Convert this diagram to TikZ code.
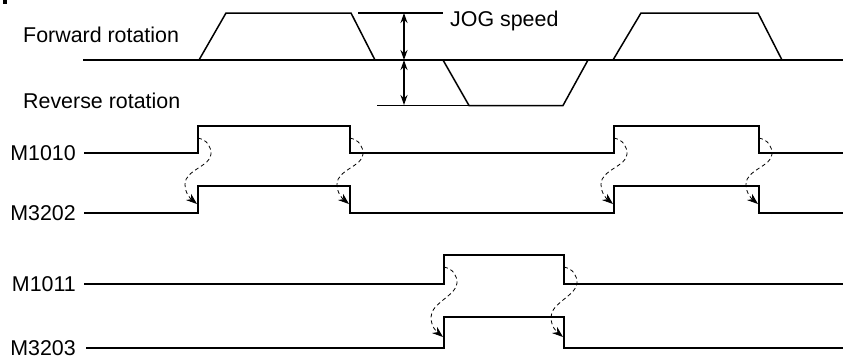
\documentclass[tikz,border=0pt]{standalone}
\usepackage{fontspec}
\setmainfont{Liberation Sans}
\usetikzlibrary{arrows.meta}
\tikzset{
  sig/.style={line width=1.5pt, line join=miter},
  spd/.style={line width=1.5pt, line join=miter},
  refline/.style={line width=1.1pt},
  lbl/.style={inner sep=0pt, font=\fontsize{21.4}{24}\selectfont},
  cause/.style={line width=0.8pt, dash pattern=on 4pt off 3pt, -{Stealth[length=11pt,width=8pt]}},
  jog/.style={line width=1.5pt, {Stealth[length=10pt,width=7pt]}-{Stealth[length=10pt,width=7pt]}}
}
\newcommand\edgearrow[4]{%
  \coordinate (#3s) at (#1,#2+12);
  \coordinate (#3r) at (#1+13,#2+28);
  \coordinate (#3l) at (#1-13,#2+58+#4);
  \coordinate (#3t) at (#1-1,#2+78+#4);
  \draw[cause] (#3s) .. controls (#1+9,#2+14) and (#1+13,#2+20) .. (#3r)
    .. controls (#1+13,#2+40) and (#1-13,#2+44+#4) .. (#3l)
    .. controls (#1-13,#2+68+#4) and (#1-7,#2+73+#4) .. (#3t);
}
\begin{document}
\begin{tikzpicture}[x=1pt,y=-1pt]
\useasboundingbox (0,0) rectangle (847,360);
\fill (3,0) rectangle (7,3.5);
% labels
\node[lbl, anchor=base west] (fwd) at (23,42) {Forward rotation};
\node[lbl, anchor=base west] (rev) at (23,108) {Reverse rotation};
\node[lbl, anchor=base west] (jogt) at (450,26) {JOG speed};
\node[lbl, anchor=east] (m1010) at (76,153) {M1010};
\node[lbl, anchor=east] (m3202) at (76,213) {M3202};
\node[lbl, anchor=east] (m1011) at (76,284) {M1011};
\node[lbl, anchor=east] (m3203) at (76,348) {M3203};
% speed graph
\draw[spd] (83,60) -- (843,60);
\draw[spd] (199,60) -- (226,13) -- (351,13) -- (375,60);
\draw[spd] (443,60) -- (469,105.5) -- (563,105.5) -- (588,60);
\draw[spd] (613,60) -- (641,13) -- (758,13) -- (782,60);
\draw[refline] (358,13) -- (443,13);
\draw[refline] (377,105.5) -- (469,105.5);
\coordinate (jtop) at (404,13);
\coordinate (jmid) at (404,60);
\coordinate (jbot) at (404,105);
\draw[jog] (jtop) -- (jmid);
\draw[jog] (jmid) -- (jbot);
% signals
\draw[sig] (84,153) -- (198,153) -- (198,126) -- (350,126) -- (350,153) -- (614,153) -- (614,126) -- (759,126) -- (759,153) -- (843,153);
\draw[sig] (84,213) -- (198,213) -- (198,186) -- (350,186) -- (350,213) -- (614,213) -- (614,186) -- (759,186) -- (759,213) -- (843,213);
\draw[sig] (84,284) -- (444,284) -- (444,255) -- (564,255) -- (564,284) -- (843,284);
\draw[sig] (86,348) -- (444,348) -- (444,317) -- (564,317) -- (564,348) -- (843,348);
% cause arrows
\edgearrow{198}{126}{a}{0}
\edgearrow{350}{126}{b}{0}
\edgearrow{614}{126}{c}{0}
\edgearrow{759}{126}{d}{0}
\edgearrow{444}{255}{e}{4}
\edgearrow{564}{255}{f}{4}
\end{tikzpicture}
\end{document}
